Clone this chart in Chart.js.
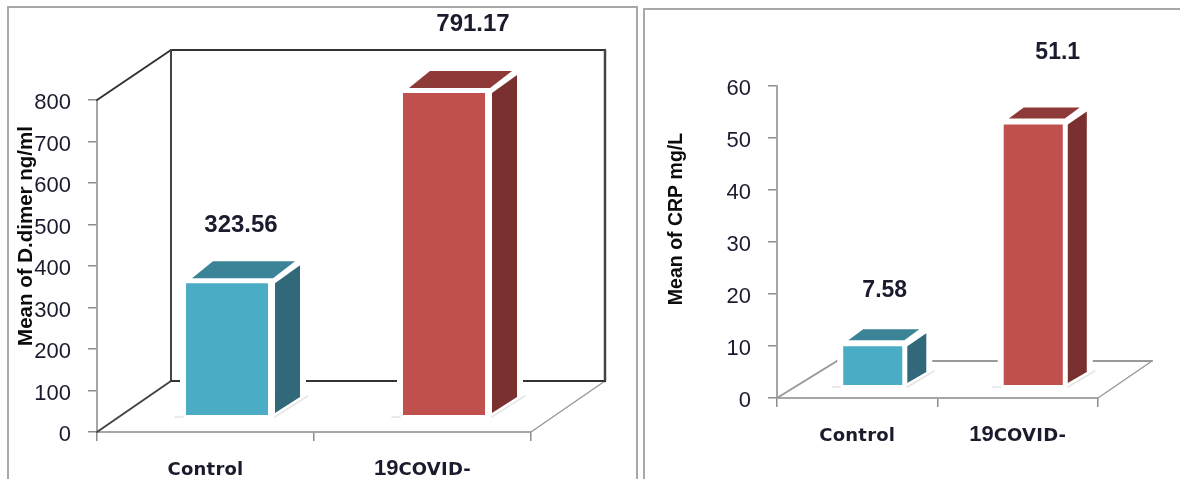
<!DOCTYPE html>
<html>
<head>
<meta charset="utf-8">
<title>Mean D-dimer and CRP</title>
<script src="https://cdn.jsdelivr.net/npm/chart.js@4"></script>
<style>
  html, body { margin: 0; padding: 0; background: #fff; overflow: hidden; width: 1180px; height: 479px; }
  .panel { position: absolute; box-sizing: border-box; border: 2px solid #a8a8a8; }
  #panelA { left: 7px; top: 6px; width: 631px; height: 500px; }
  #panelB { left: 643px; top: 8px; width: 560px; height: 500px; }
  canvas { position: absolute; top: 0; }
  #dimerChart { left: 0; }
  #crpChart { left: 640px; }
</style>
</head>
<body>
<div class="panel" id="panelA"></div>
<div class="panel" id="panelB"></div>
<canvas id="dimerChart" width="640" height="479"></canvas>
<canvas id="crpChart" width="540" height="479"></canvas>
<script>
const categories = ['Control', '19COVID-'];
const dimerValues = [323.56, 791.17];
const crpValues = [7.58, 51.1];
const dimerTicks = [0, 100, 200, 300, 400, 500, 600, 700, 800];
const crpTicks = [0, 10, 20, 30, 40, 50, 60];

const frontColors = ['#4bacc6', '#c0504d'];
const sideColors = ['#31697b', '#7a302e'];
const topColors = ['#3b8497', '#8e3a38'];

const axisGrey = '#a6a6a6';
const textColor = '#1b1b2e';

function polygon(ctx, pts) {
  ctx.beginPath();
  pts.forEach((p, i) => (i ? ctx.lineTo(p[0], p[1]) : ctx.moveTo(p[0], p[1])));
  ctx.closePath();
}

function line(ctx, x1, y1, x2, y2, color, width) {
  ctx.strokeStyle = color;
  ctx.lineWidth = width;
  ctx.beginPath();
  ctx.moveTo(x1, y1);
  ctx.lineTo(x2, y2);
  ctx.stroke();
}

// the pseudo 3D look: floor, back wall, bar sides and all the text the scales can't do
function sceneFor(opt) {
  return {
    id: 'scene',
    beforeDatasetsDraw(chart) {
      const ctx = chart.ctx;
      const a = chart.chartArea;
      const f = opt.floor;
      ctx.save();
      ctx.lineCap = 'round';
      const bl = a.left + f.left;
      const br = a.right + f.right;
      const by = a.bottom + f.rise;
      line(ctx, a.left, a.bottom, bl, by, opt.wall ? '#444' : '#999', 2);
      line(ctx, a.right, a.bottom, br, by, '#999', 1.5);
      if (opt.wall) {
        const ty = a.top + f.rise + 1;
        line(ctx, a.left, a.top, bl, ty, '#333', 2);
        line(ctx, bl, ty, br, ty, '#333', 2);
        line(ctx, bl, ty, bl, by, '#444', 2);
        line(ctx, br, ty, br, by, '#444', 2.5);
        line(ctx, bl, by, br, by, '#333', 2);
      } else {
        line(ctx, bl, by, br, by, '#999', 2);
      }

      // bars sit further back on the floor than the category slots
      ctx.translate(opt.barShift, 0);
      const d = opt.depth;
      chart.getDatasetMeta(0).data.forEach((bar, i) => {
        const l = bar.x - bar.width / 2;
        const r = bar.x + bar.width / 2;
        const t = bar.y;
        const b = bar.base;

        // white halo that cuts the wall lines around each bar
        ctx.fillStyle = '#fff';
        ctx.strokeStyle = '#fff';
        ctx.lineWidth = 12;
        ctx.lineJoin = 'round';
        polygon(ctx, [[l, b], [l, t], [l + d.topBack, t - d.topRise], [r + d.sideOut, t - d.topRise],
          [r + d.sideOut, b - d.sideRise], [r, b]]);
        ctx.fill();
        ctx.stroke();

        // faint footprint on the floor
        line(ctx, l - 11, b + 2, l - 3, b + 2, '#e4e4e4', 1.5);
        line(ctx, r + d.sideGap, b + 2, r + d.sideOut + 8, b - d.sideRise - 1, '#e4e4e4', 1.5);

        ctx.fillStyle = sideColors[i];
        polygon(ctx, [[r + d.sideGap, t], [r + d.sideOut, t - d.sideRise],
          [r + d.sideOut, b - d.sideRise], [r + d.sideGap, b - 2]]);
        ctx.fill();

        ctx.fillStyle = topColors[i];
        polygon(ctx, [[l + d.topIn, t - d.topGap], [l + d.topBack, t - d.topRise],
          [r + d.topOut, t - d.topRise], [r + d.topIn2, t - d.topGap]]);
        ctx.fill();
      });
    },
    afterDatasetsDraw(chart) {
      const ctx = chart.ctx;
      ctx.restore();
      ctx.save();

      // values above the bars
      ctx.fillStyle = textColor;
      ctx.textAlign = 'center';
      ctx.textBaseline = 'middle';
      ctx.font = 'bold ' + opt.valueSize + 'px "Liberation Sans"';
      const values = chart.data.datasets[0].data;
      chart.getDatasetMeta(0).data.forEach((bar, i) => {
        const s = opt.labelShift[i];
        ctx.fillText(String(values[i]), bar.x + opt.barShift + s[0], bar.y + s[1]);
      });

      // category names, leading digits are set larger
      const xs = chart.scales.x;
      ctx.textBaseline = 'alphabetic';
      ctx.textAlign = 'left';
      categories.forEach((name, i) => {
        const digits = name.match(/^\d*/)[0];
        const rest = name.slice(digits.length);
        const bigFont = 'bold 22px "Liberation Sans"';
        const smallFont = 'bold 18px "DejaVu Sans"';
        ctx.letterSpacing = '0px';
        ctx.font = bigFont;
        const w1 = ctx.measureText(digits).width;
        ctx.font = smallFont;
        ctx.letterSpacing = '0.2px';
        const w2 = ctx.measureText(rest).width;
        let x = xs.getPixelForTick(i) - (w1 + w2) / 2;
        ctx.letterSpacing = '0px';
        ctx.font = bigFont;
        ctx.fillText(digits, x, opt.categoryY);
        ctx.letterSpacing = '0.2px';
        ctx.font = smallFont;
        ctx.fillText(rest, x + w1, opt.categoryY);
      });
      ctx.letterSpacing = '0px';

      // axis title runs into the tick labels, so it can't use the scale's own title
      ctx.translate(opt.titleX, opt.titleY);
      ctx.rotate(-Math.PI / 2);
      ctx.textAlign = 'center';
      ctx.textBaseline = 'middle';
      ctx.fillStyle = '#0c0c0c';
      ctx.font = 'bold ' + opt.titleSize + 'px "Liberation Sans"';
      ctx.fillText(opt.title, 0, 0);
      ctx.restore();
    }
  };
}

function makeChart(id, values, ticks, opt) {
  return new Chart(document.getElementById(id), {
    type: 'bar',
    data: {
      labels: categories,
      datasets: [{
        data: values,
        yAxisID: 'barY',
        backgroundColor: frontColors,
        barPercentage: opt.barPercent,
        categoryPercentage: 1,
        clip: false
      }]
    },
    options: {
      responsive: false,
      animation: false,
      layout: { padding: opt.padding },
      plugins: { legend: { display: false }, tooltip: { enabled: false } },
      scales: {
        x: {
          ticks: { display: false },
          grid: { drawOnChartArea: false, tickLength: 9, color: '#8c8c8c', lineWidth: 1.5 },
          border: { color: axisGrey, width: 2 },
          afterFit(scale) { scale.height = opt.padding.xHeight; }
        },
        y: {
          min: ticks[0],
          max: ticks[ticks.length - 1],
          ticks: {
            stepSize: ticks[1] - ticks[0],
            padding: 17,
            labelOffset: 3,
            color: textColor,
            font: { family: '"Liberation Sans"', size: 22 }
          },
          grid: { drawOnChartArea: false, tickLength: 9, color: '#8c8c8c', lineWidth: 1.5 },
          border: { color: axisGrey, width: 2 },
          afterFit(scale) { scale.width = opt.padding.yWidth; }
        },
        // the bars stand on the floor, above the front edge where the visible axis starts
        barY: { display: false, min: opt.barMin, max: opt.barMax }
      }
    },
    plugins: [sceneFor(opt)]
  });
}

makeChart('dimerChart', dimerValues, dimerTicks, {
  padding: { left: 0, right: 109, top: 100, bottom: 0, xHeight: 47, yWidth: 97 },
  barPercent: 0.378,
  barMin: -41.8,
  barMax: 773.9,
  barShift: 21.5,
  wall: true,
  floor: { left: 74, right: 74, rise: -51 },
  depth: { sideGap: 7, sideOut: 32, sideRise: 18, topIn: 6, topBack: 27, topOut: 27, topIn2: 5, topGap: 5, topRise: 22 },
  labelShift: [[14, -58], [29, -69]],
  valueSize: 24,
  categoryY: 475,
  title: 'Mean of D.dimer ng/ml',
  titleX: 26,
  titleY: 236,
  titleSize: 20.5
});

makeChart('crpChart', crpValues, crpTicks, {
  padding: { left: 0, right: 82, top: 86, bottom: 0, xHeight: 81, yWidth: 137 },
  barPercent: 0.368,
  barMin: -2.55,
  barMax: 58.63,
  barShift: 15.5,
  wall: false,
  floor: { left: 60, right: 54, rise: -37 },
  depth: { sideGap: 5, sideOut: 24, sideRise: 13, topIn: 5, topBack: 20, topOut: 17, topIn2: 2, topGap: 6, topRise: 17 },
  labelShift: [[12, -56], [24.5, -72]],
  valueSize: 23,
  categoryY: 441,
  title: 'Mean of CRP mg/L',
  titleX: 37,
  titleY: 219,
  titleSize: 19.5
});
</script>
</body>
</html>
